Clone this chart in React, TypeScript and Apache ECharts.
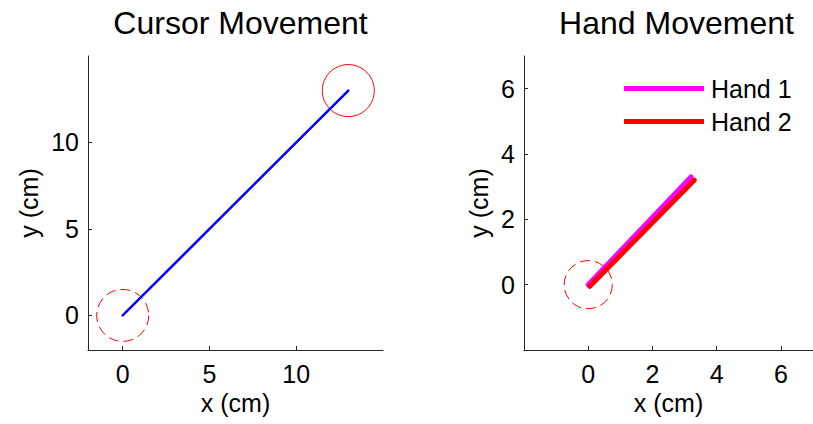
import React, { useEffect, useRef } from "react";
import * as echarts from "echarts";

// Cursor movement panel
const cursorPath: number[][] = [
  [0, 0],
  [13, 13],
];
const cursorTargets = [[13, 13, 1.5]]; // solid target circle [x, y, radius]
const cursorStart = [[0, 0, 1.5]]; // dashed start circle
const cursorTicks = [0, 5, 10];

// Hand movement panel
const hand1Path: number[][] = [
  [0, 0],
  [3.2, 3.3],
];
const hand2Path: number[][] = [
  [0.05, -0.05],
  [3.3, 3.2],
];
const handStart = [[0, 0, 0.75]];
const handTicks = [0, 2, 4, 6];

const FONT = "Liberation Sans, Arial, Helvetica, sans-serif";
const AXIS_COLOR = "#262626";

function circleSeries(data: number[][], gridIdx: number, dashed: boolean) {
  return {
    type: "custom",
    xAxisIndex: gridIdx,
    yAxisIndex: gridIdx,
    silent: true,
    dimensions: ["x", "y", "r"],
    encode: { x: 0, y: 1 },
    data,
    z: 1,
    renderItem: (params: any, api: any) => {
      const c = api.coord([api.value(0), api.value(1)]);
      const s = api.size([api.value(2), api.value(2)]);
      return {
        type: "circle",
        shape: { cx: c[0], cy: c[1], r: s[0] },
        style: {
          fill: "none",
          stroke: "#ff0000",
          lineWidth: 1,
          lineDash: dashed ? [10, 5] : null,
        },
      };
    },
  };
}

function makeAxis(
  dim: "x" | "y",
  gridIndex: number,
  min: number,
  max: number,
  ticks: number[],
  nameGap: number
) {
  return {
    type: "value",
    gridIndex,
    min,
    max,
    name: dim === "x" ? "x (cm)" : "y (cm)",
    nameLocation: "middle",
    nameGap,
    nameTextStyle: { fontSize: 25, color: "#000", fontFamily: FONT },
    axisLine: { show: true, onZero: false, lineStyle: { color: AXIS_COLOR, width: 1 } },
    axisTick: {
      show: true,
      inside: true,
      length: 4,
      customValues: ticks,
      lineStyle: { color: AXIS_COLOR, width: 1 },
    },
    axisLabel: {
      customValues: ticks,
      fontSize: 25,
      color: "#000",
      fontFamily: FONT,
      margin: dim === "x" ? 11 : 9,
    },
    splitLine: { show: false },
  };
}

export default function App() {
  const ref = useRef<HTMLDivElement>(null);
  useEffect(() => {
    if (!ref.current) return;
    const chart = echarts.init(ref.current, null, { renderer: "svg" });
    chart.setOption({
      animation: false,
      backgroundColor: "#ffffff",
      textStyle: { fontFamily: FONT },
      title: [
        {
          text: "Cursor Movement",
          left: 235.5,
          textAlign: "center",
          top: 2,
          textStyle: { fontSize: 32, fontWeight: "normal", color: "#000", fontFamily: FONT },
        },
        {
          text: "Hand Movement",
          left: 671.5,
          textAlign: "center",
          top: 2,
          textStyle: { fontSize: 32, fontWeight: "normal", color: "#000", fontFamily: FONT },
        },
      ],
      legend: {
        data: ["Hand 1", "Hand 2"],
        orient: "vertical",
        left: 624,
        top: 76,
        padding: 0,
        icon: "rect",
        itemWidth: 80,
        itemHeight: 5,
        itemGap: 8,
        textStyle: {
          fontSize: 25,
          lineHeight: 25,
          color: "#000",
          fontFamily: FONT,
          padding: [0, 0, 0, 2],
        },
      },
      grid: [
        { left: 88, top: 56, width: 295, height: 294 },
        { left: 524, top: 56, width: 295, height: 294 },
      ],
      xAxis: [
        makeAxis("x", 0, -2, 15, cursorTicks, 39),
        makeAxis("x", 1, -2, 7, handTicks, 39),
      ],
      yAxis: [
        makeAxis("y", 0, -2, 15, cursorTicks, 47),
        makeAxis("y", 1, -2, 7, handTicks, 33),
      ],
      series: [
        circleSeries(cursorStart, 0, true),
        circleSeries(cursorTargets, 0, false),
        {
          type: "line",
          name: "Cursor",
          xAxisIndex: 0,
          yAxisIndex: 0,
          data: cursorPath,
          showSymbol: false,
          symbol: "none",
          z: 2,
          lineStyle: { color: "#0000ff", width: 2.5, cap: "round" },
        },
        circleSeries(handStart, 1, true),
        {
          type: "line",
          name: "Hand 1",
          xAxisIndex: 1,
          yAxisIndex: 1,
          data: hand1Path,
          symbol: "none",
          color: "#ff00ff",
          z: 2,
          lineStyle: { color: "#ff00ff", width: 5, cap: "round" },
        },
        {
          type: "line",
          name: "Hand 2",
          xAxisIndex: 1,
          yAxisIndex: 1,
          data: hand2Path,
          symbol: "none",
          color: "#ff0000",
          z: 3,
          lineStyle: { color: "#ff0000", width: 5, cap: "round" },
        },
      ],
    });
    return () => chart.dispose();
  }, []);
  return (
    <div
      ref={ref}
      style={{ position: "absolute", left: 0, top: 0, width: 813, height: 424, overflow: "hidden" }}
    />
  );
}
